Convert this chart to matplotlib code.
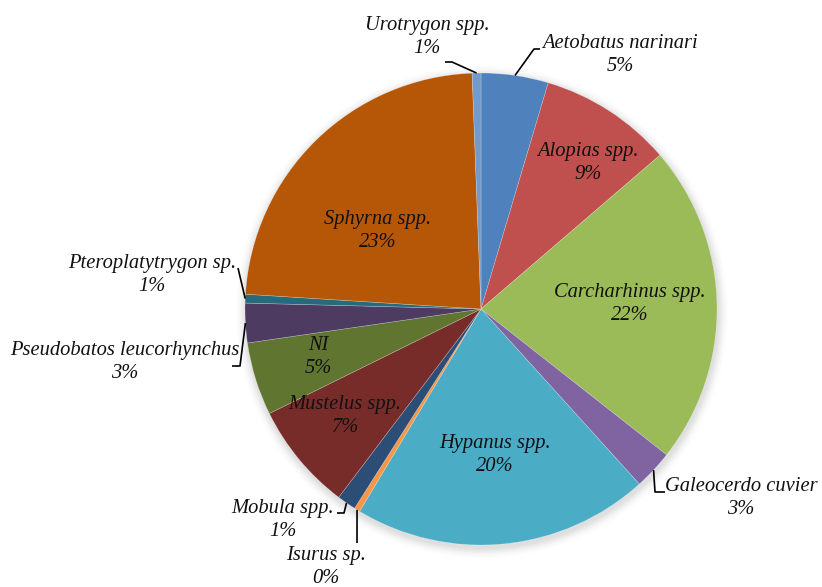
import numpy as np
import matplotlib
matplotlib.use("Agg")
import matplotlib.pyplot as plt
from matplotlib.patches import Circle

# ---- data ----
species = ["Aetobatus narinari", "Alopias spp.", "Carcharhinus spp.", "Galeocerdo cuvier",
           "Hypanus spp.", "Isurus sp.", "Mobula spp.", "Mustelus spp.", "NI",
           "Pseudobatos leucorhynchus", "Pteroplatytrygon sp.", "Sphyrna spp.", "Urotrygon spp."]
percent = [4.6, 9.1, 21.9, 2.7, 20.3, 0.4, 1.3, 7.4, 5.0, 2.7, 0.6, 23.4, 0.6]
colors = ["#4F81BD", "#C0504D", "#9BBB59", "#8064A2", "#4BACC6", "#F79646", "#2C4D75",
          "#772C2A", "#5F7530", "#4D3B62", "#276A7C", "#B65708", "#729ACA"]

# ---- layout (image pixel coords, y down) ----
W, H = 822, 587
CX, CY, R = 481, 309, 236
label_pos = {
    "Aetobatus narinari": (620, 55),
    "Alopias spp.": (588, 163),
    "Carcharhinus spp.": (630, 304),
    "Galeocerdo cuvier": (741, 498),
    "Hypanus spp.": (495, 455),
    "Isurus sp.": (326, 567),
    "Mobula spp.": (283, 520),
    "Mustelus spp.": (345, 416),
    "NI": (318, 357),
    "Pseudobatos leucorhynchus": (125, 362),
    "Pteroplatytrygon sp.": (152, 275),
    "Sphyrna spp.": (378, 231),
    "Urotrygon spp.": (427, 37),
}
# leader line vertices (from label side), last point = slice arc midpoint (computed)
leaders = {
    "Urotrygon spp.": [(445, 62), (452, 62)],
    "Aetobatus narinari": [(540, 49), (534, 49)],
    "Galeocerdo cuvier": [(665, 492), (655, 492)],
    "Isurus sp.": [(357, 543)],
    "Mobula spp.": [(337, 513), (344, 513)],
    "Pseudobatos leucorhynchus": [(232, 366), (240, 366)],
    "Pteroplatytrygon sp.": [(238, 268)],
}

def P(x, y):
    return (x, H - y)

fig = plt.figure(figsize=(W / 100, H / 100), dpi=100)
ax = fig.add_axes([0, 0, 1, 1])

# soft shadow
for i, a in enumerate(np.linspace(0.05, 0.012, 8)):
    ax.add_patch(Circle(P(CX + 1, CY + 3), R + 1 + i * 1.3, color="#808080",
                        alpha=a, lw=0, zorder=0))

wedges, _ = ax.pie(percent, colors=colors, startangle=90, counterclock=False,
                   radius=R, center=P(CX, CY),
                   wedgeprops=dict(linewidth=0.4, edgecolor=(1, 1, 1, 0.35)))
for w in wedges:
    w.set_zorder(2)

ax.set_xlim(0, W)
ax.set_ylim(0, H)
ax.set_aspect("equal")
ax.axis("off")

font = dict(family="Liberation Serif", style="italic", size=14.8, color="#111111")

for name, v, w in zip(species, percent, wedges):
    x, y = label_pos[name]
    ax.text(*P(x, y), f"{name}\n{round(v)}%", ha="center", va="center",
            multialignment="center", linespacing=1.3, zorder=5, **font)
    if name in leaders:
        mid = np.deg2rad((w.theta1 + w.theta2) / 2)
        cx, cy = w.center
        edge = (cx + w.r * np.cos(mid), cy + w.r * np.sin(mid))
        pts = [P(*p) for p in leaders[name]] + [edge]
        xs, ys = zip(*pts)
        ax.plot(xs, ys, color="black", lw=1.2, zorder=4, solid_capstyle="butt")

fig.savefig("out.png", dpi=100, facecolor="white")
